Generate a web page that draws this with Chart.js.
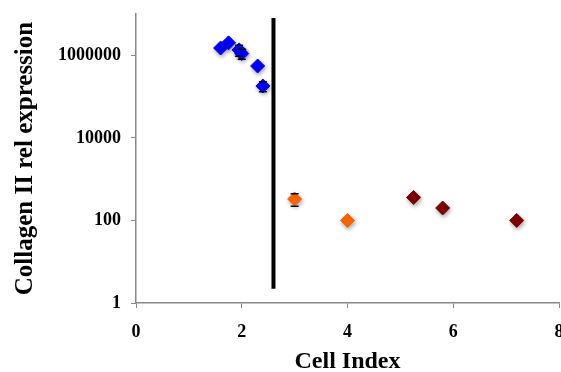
<!DOCTYPE html>
<html lang="en">
  <head>
    <meta charset="UTF-8" />
    <title>Collagen II</title>
    <script src="https://cdn.jsdelivr.net/npm/chart.js"></script>
    <style>
      body { margin: 0; background: #fff; }
      #wrap { width: 561px; height: 372px; }
    </style>
  </head>
  <body>
    <div id="wrap"><canvas id="chart"></canvas></div>
    <script>
      // values
      const blueX = [1.6, 1.75, 1.95, 2.0, 2.3, 2.4];
      const blueY = [1.5e6, 2.0e6, 1.35e6, 1.1e6, 5.5e5, 1.8e5];
      const blueErr = [0, 0, 0.4e6, 0.3e6, 0, 0.5e5];
      const orangeX = [3.0, 4.0];
      const orangeY = [330, 100];
      const orangeErr = [110, 0];
      const redX = [5.25, 5.8, 7.2];
      const redY = [360, 200, 100];
      const redErr = [0, 0, 0];
      const dividerX = [2.6, 2.6];
      const dividerY = [2.2, 8e6];
      const yTicks = [1, 100, 10000, 1000000];
      const xTicks = [0, 2, 4, 6, 8];

      const pts = (xs, ys, es) => xs.map((x, i) => ({ x: x, y: ys[i], e: es[i] }));

      const errorBars = {
        id: "errorBars",
        afterDatasetsDraw(chart) {
          const ctx = chart.ctx;
          const xs = chart.scales.x, ys = chart.scales.y;
          ctx.save();
          ctx.strokeStyle = "#000";
          ctx.lineWidth = 1.5;
          chart.data.datasets.forEach(ds => {
            if (!ds.withErr) return;
            ds.data.forEach(p => {
              if (!p.e) return;
              const px = xs.getPixelForValue(p.x);
              const top = ys.getPixelForValue(p.y + p.e);
              const bot = ys.getPixelForValue(Math.max(p.y - p.e, 1));
              ctx.beginPath();
              ctx.moveTo(px - 4, top); ctx.lineTo(px + 4, top);
              ctx.moveTo(px - 4, bot); ctx.lineTo(px + 4, bot);
              ctx.stroke();
            });
          });
          ctx.restore();
        }
      };

      const shadow = {
        id: "shadow",
        beforeDatasetDraw(chart, args) {
          if (!args.meta._dataset.withErr) return;
          const ctx = chart.ctx;
          ctx.save();
          ctx.shadowColor = "rgba(0,0,0,0.35)";
          ctx.shadowBlur = 4;
          ctx.shadowOffsetX = 1;
          ctx.shadowOffsetY = 2;
        },
        afterDatasetDraw(chart, args) {
          if (!args.meta._dataset.withErr) return;
          chart.ctx.restore();
        }
      };

      const marker = color => ({
        backgroundColor: color,
        borderColor: color,
        pointStyle: "rectRot",
        pointRadius: 7,
        showLine: false,
        withErr: true
      });

      const font = { family: "'Liberation Serif', 'Times New Roman', serif", weight: "bold" };

      new Chart(document.getElementById("chart"), {
        type: "scatter",
        data: {
          datasets: [
            Object.assign({ data: pts(blueX, blueY, blueErr) }, marker("#0000ff")),
            Object.assign({ data: pts(orangeX, orangeY, orangeErr) }, marker("#ff6600")),
            Object.assign({ data: pts(redX, redY, redErr) }, marker("#7f0000")),
            {
              type: "line",
              data: dividerX.map((x, i) => ({ x: x, y: dividerY[i] })),
              borderColor: "#000",
              borderWidth: 4,
              pointRadius: 0
            }
          ]
        },
        options: {
          responsive: true,
          maintainAspectRatio: false,
          animation: false,
          layout: { autoPadding: false, padding: { top: 14, right: 2 } },
          plugins: { legend: { display: false }, tooltip: { enabled: false } },
          scales: {
            x: {
              type: "linear",
              min: 0,
              max: 8,
              afterFit: s => { s.height = 69; s.paddingRight = 0; s.paddingLeft = 0; },
              afterBuildTicks: s => { s.ticks = xTicks.map(v => ({ value: v })); },
              grid: { drawOnChartArea: false, color: "#888", tickLength: 5 },
              border: { color: "#888", width: 1.5 },
              ticks: { color: "#000", font: Object.assign({ size: 18 }, font), padding: 14 },
              title: {
                display: true,
                text: "Cell Index",
                color: "#000",
                font: Object.assign({ size: 24, lineHeight: 1 }, font),
                padding: { top: 4, bottom: -2 }
              }
            },
            y: {
              type: "logarithmic",
              min: 1,
              max: 1e7,
              afterFit: s => { s.width = 136; s.paddingTop = 0; s.paddingBottom = 0; },
              afterBuildTicks: s => { s.ticks = yTicks.map(v => ({ value: v })); },
              grid: { drawOnChartArea: false, color: "#888", tickLength: 5 },
              border: { color: "#888", width: 1.5 },
              ticks: {
                color: "#000",
                font: Object.assign({ size: 18 }, font),
                padding: 10,
                callback: v => String(v)
              },
              title: {
                display: true,
                text: "Collagen II rel expression",
                color: "#000",
                font: Object.assign({ size: 25 }, font),
                padding: { top: 11, bottom: 0 }
              }
            }
          }
        },
        plugins: [errorBars, shadow]
      });
    </script>
  </body>
</html>
